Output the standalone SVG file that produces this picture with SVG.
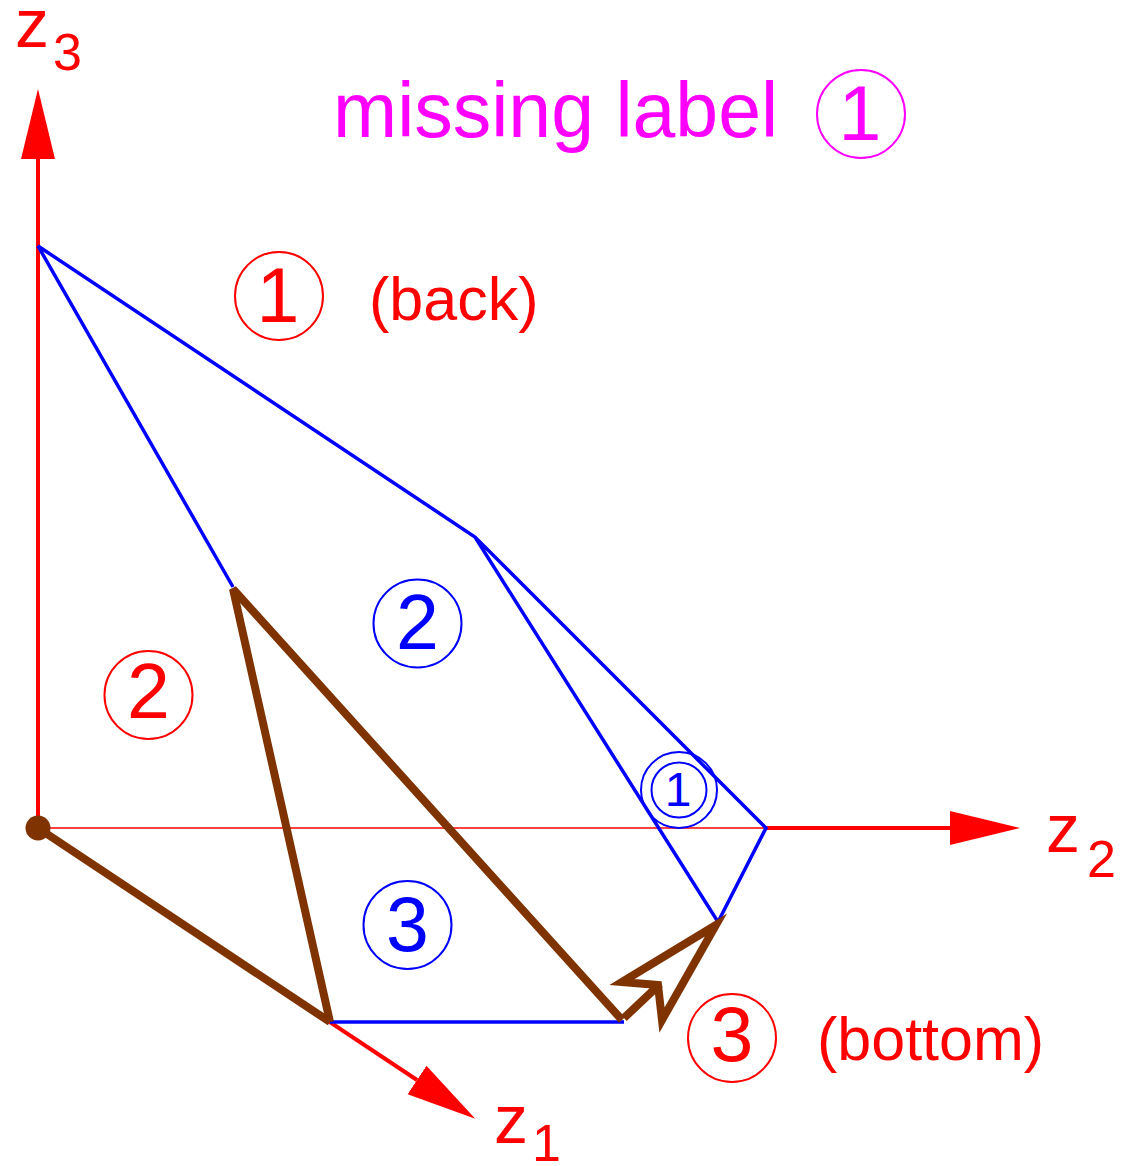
<svg xmlns="http://www.w3.org/2000/svg" width="1124" height="1166" viewBox="0 0 1124 1166">
<style>
text{font-family:"Liberation Sans",Arial,Helvetica,sans-serif}
.red{fill:#ff0000}
.blue{fill:#0000ff}
.mag{fill:#ff00ff}
.lab{font-size:68px}
.sub{font-size:52px}
.num{font-size:77px;text-anchor:middle}
.word{font-size:61px}
.rc{fill:none;stroke:#ff0000;stroke-width:2}
.bc{fill:none;stroke:#0000ff;stroke-width:2}
.mc{fill:none;stroke:#ff00ff;stroke-width:2}
.edge{fill:none;stroke:#0000ff;stroke-width:3.5;stroke-linejoin:miter}
.brown{fill:none;stroke:#7f3300;stroke-width:8;stroke-linejoin:miter;stroke-linecap:butt}
.axis{stroke:#ff0000;stroke-width:4;fill:none}
</style>
<defs>
<marker id="ah" markerUnits="userSpaceOnUse" markerWidth="72" markerHeight="36" viewBox="0 -18 72 36" refX="0" refY="0" orient="auto">
<path d="M0,-17 L70,0 L0,17 Z" fill="#ff0000"/>
</marker>
</defs>
<g id="connectors">
<line class="axis" x1="38" y1="828" x2="38" y2="159" marker-end="url(#ah)"/>
<line x1="38" y1="828" x2="766" y2="828" stroke="#ff0000" stroke-width="1.3"/>
<line class="axis" x1="766" y1="828" x2="950" y2="828" marker-end="url(#ah)"/>
<line class="axis" x1="38" y1="828" x2="417" y2="1080" marker-end="url(#ah)"/>
<polyline class="edge" points="233,587 38,246 475,537 766,828 718,922 475,537"/>
<line class="edge" x1="330" y1="1022" x2="624" y2="1022"/>
<line class="brown" x1="38" y1="828" x2="330" y2="1022"/>
<polyline class="brown" style="stroke-linejoin:bevel" points="330,1022 233,589 622,1020"/>
<line class="brown" x1="624" y1="1018" x2="660" y2="984" stroke-width="7"/>
<polygon class="brown" stroke-width="7" points="622,982 716,925 662,1020 658,985"/>
<circle cx="38" cy="828" r="12.5" fill="#7f3300"/>
</g>
<g id="z3-label"><text class="red lab" x="15" y="47">z</text><text class="red sub" x="53" y="70">3</text></g>
<g id="z2-label"><text class="red lab" x="1046" y="852">z</text><text class="red sub" x="1087" y="877">2</text></g>
<g id="z1-label"><text class="red lab" x="494" y="1143">z</text><text class="red sub" x="532" y="1161">1</text></g>
<g id="missing-label"><text class="mag" x="333" y="137" style="font-size:77px">missing label</text><circle class="mc" cx="861" cy="114" r="44"/><text class="mag num" x="860" y="140">1</text></g>
<g id="back-label"><circle class="rc" cx="279" cy="296" r="44"/><text class="red num" x="278" y="322">1</text><text class="red word" x="369" y="320">(back)</text></g>
<g id="red-2"><circle class="rc" cx="148.5" cy="695" r="44"/><text class="red num" x="148.5" y="718">2</text></g>
<g id="blue-2"><circle class="bc" cx="417.5" cy="623.5" r="44"/><text class="blue num" x="417.5" y="649">2</text></g>
<g id="blue-3"><circle class="bc" cx="407.5" cy="925" r="44"/><text class="blue num" x="407.5" y="951">3</text></g>
<g id="blue-1"><circle class="bc" cx="679" cy="790" r="38"/><circle class="bc" cx="679" cy="790" r="27.5"/><text class="blue" x="678" y="806" style="font-size:48px;text-anchor:middle">1</text></g>
<g id="bottom-label"><circle class="rc" cx="732" cy="1038" r="44"/><text class="red num" x="732" y="1061">3</text><text class="red word" x="817" y="1060">(bottom)</text></g>
</svg>
